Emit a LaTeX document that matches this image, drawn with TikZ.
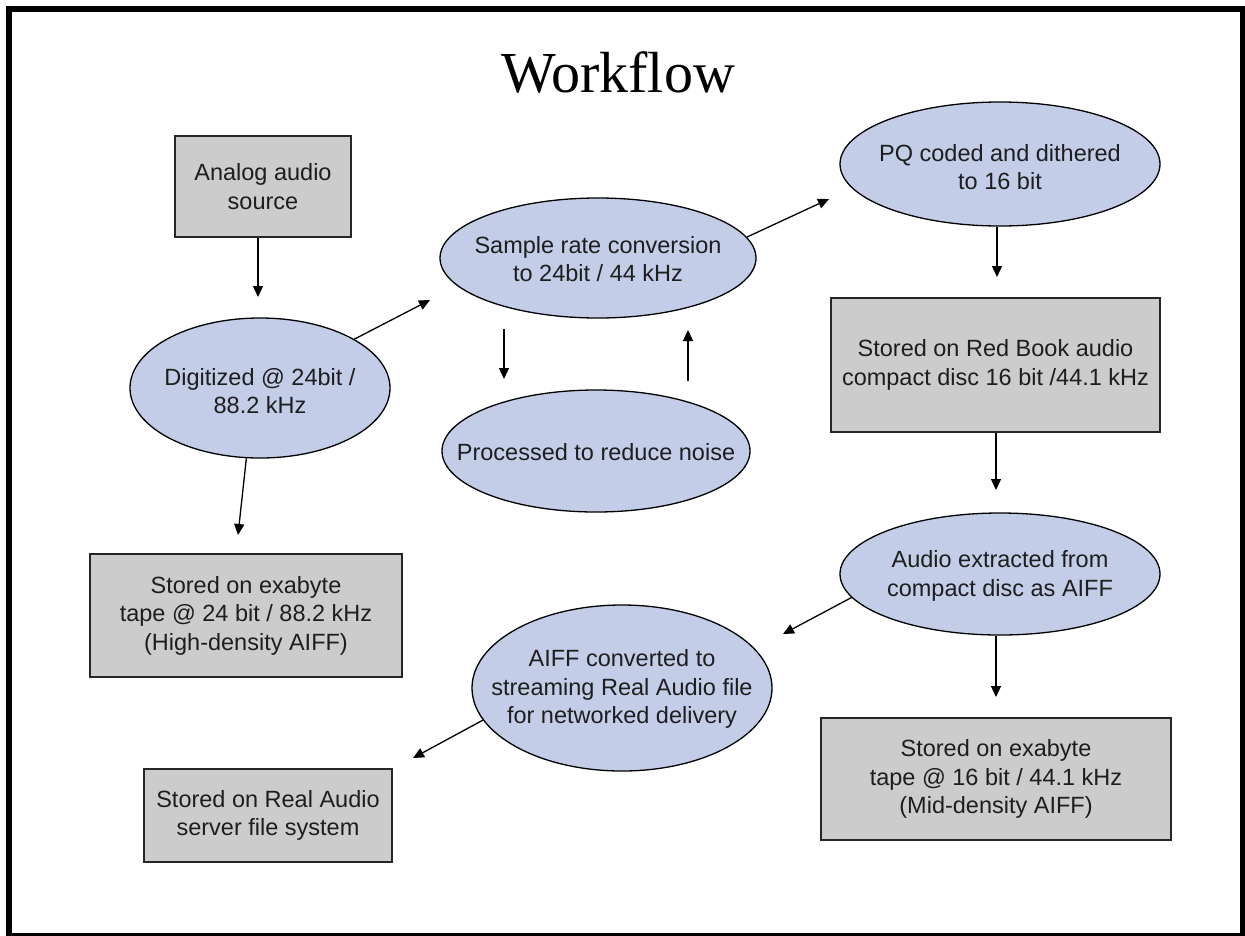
\documentclass[tikz,border=0pt]{standalone}
\usepackage{fontspec}
\setmainfont{Liberation Sans}
\newfontfamily\titlefont{Liberation Serif}
\usetikzlibrary{shapes.geometric,arrows.meta}
\definecolor{ellfill}{RGB}{195,205,232}
\definecolor{boxfill}{RGB}{204,204,204}
\definecolor{txtcol}{RGB}{30,30,30}
\begin{document}
\begin{tikzpicture}[x=1pt,y=-1pt,
  ell/.style={ellipse,draw=black,line width=1.3pt,fill=ellfill,inner sep=0pt},
  box/.style={rectangle,draw=black!85,line width=1.8pt,fill=boxfill,inner sep=0pt,align=center,text=txtcol,font=\fontsize{23.5}{28.5}\selectfont},
  lbl/.style={align=center,text=txtcol,font=\fontsize{23.5}{28.5}\selectfont,inner sep=0pt},
  arr/.style={-{Triangle[length=11pt,width=10pt]},line width=1.3pt}]
\useasboundingbox (0,0) rectangle (1245,935);
\fill[white] (0,0) rectangle (1245,935);
\draw[line width=6pt] (9,9) rectangle (1243,936);

\node[anchor=base,font=\titlefont\fontsize{58}{60}\selectfont] (title) at (618,92) {Workflow};

% boxes
\node[box,minimum width=176pt,minimum height=101pt] (analog) at (263,186.5) {Analog audio\\source};
\node[box,minimum width=329pt,minimum height=134pt] (red) at (995.5,365) {Stored on Red Book audio\\compact disc 16 bit /44.1 kHz};
\node[box,minimum width=350pt,minimum height=122pt] (mid) at (996,779) {Stored on exabyte\\tape @ 16 bit / 44.1 kHz\\(Mid-density AIFF)};
\node[box,minimum width=312pt,minimum height=123pt] (exa) at (246,615.5) {Stored on exabyte\\tape @ 24 bit / 88.2 kHz\\(High-density AIFF)};
\node[box,minimum width=248pt,minimum height=93pt] (real) at (268,815.5) {Stored on Real Audio\\server file system};

% ellipses
\node[ell,minimum width=260pt,minimum height=140pt] (dig) at (260,388) {};
\node[lbl] (digT) at (260,391) {Digitized @ 24bit /\\88.2 kHz};
\node[ell,minimum width=316pt,minimum height=120pt] (samp) at (598,258) {};
\node[lbl] (sampT) at (598,259) {Sample rate conversion\\to 24bit / 44 kHz};
\node[ell,minimum width=308pt,minimum height=122pt] (proc) at (596,451) {};
\node[lbl] (procT) at (596,452) {Processed to reduce noise};
\node[ell,minimum width=320pt,minimum height=124pt] (pq) at (1000,164) {};
\node[lbl] (pqT) at (1000,167) {PQ coded and dithered\\to 16 bit};
\node[ell,minimum width=320pt,minimum height=122pt] (aud) at (1000,574) {};
\node[lbl] (audT) at (1000,576) {Audio extracted from\\compact disc as AIFF};
\node[ell,minimum width=300pt,minimum height=166pt] (aiff) at (622,688) {};
\node[lbl] (aiffT) at (622,689) {AIFF converted to\\streaming Real Audio file\\for networked delivery};

% arrow tips / free ends
\coordinate (t1) at (258,297);
\coordinate (t2) at (430,300);
\coordinate (t3) at (829,199);
\coordinate (t4) at (997,277);
\coordinate (t5) at (996,490);
\coordinate (t6) at (996,697);
\coordinate (t7) at (783,634);
\coordinate (t8) at (413,758);
\coordinate (t9) at (238,535);
\coordinate (s1) at (504,329);
\coordinate (s2) at (504,379);
\coordinate (p1) at (688,381);
\coordinate (p2) at (688,330);

\draw[arr] (analog.south -| t1) -- (t1);
\draw[arr] (dig) -- (t2);
\draw[arr] (samp.8) -- (t3);
\draw[arr] (pq.south -| t4) -- (t4);
\draw[arr] (red.south -| t5) -- (t5);
\draw[arr] (aud.south -| t6) -- (t6);
\draw[arr] (aud.189) -- (t7);
\draw[arr] (aiff.193) -- (t8);
\draw[arr] (dig.259) -- (t9);
\draw[arr] (s1) -- (s2);
\draw[arr] (p1) -- (p2);
\end{tikzpicture}
\end{document}
